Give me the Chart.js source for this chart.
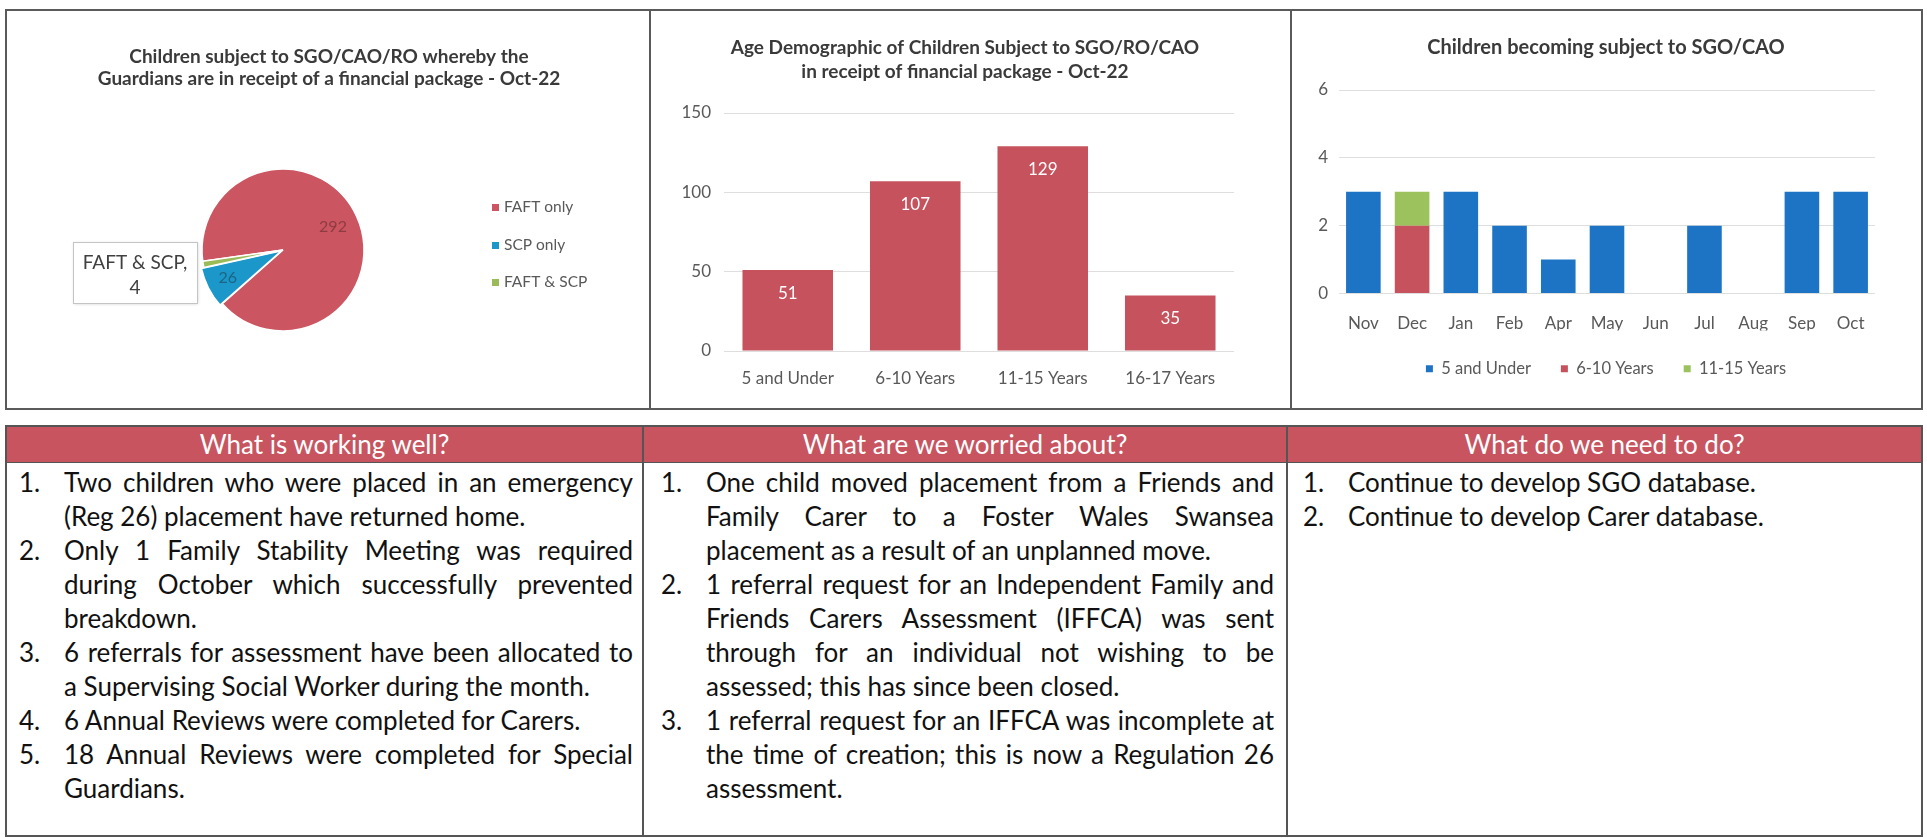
<!DOCTYPE html>
<html>
<head>
<meta charset="utf-8">
<script src="https://cdn.jsdelivr.net/npm/chart.js@4.4.0/dist/chart.umd.min.js"></script>
<style>
html,body{margin:0;padding:0;background:#fff;width:1927px;height:838px;overflow:hidden;font-family:Lato,'Open Sans',sans-serif;}
.panel{position:absolute;border:2px solid #5a5a5a;box-sizing:border-box;}
canvas{position:absolute;}
.col{position:absolute;top:425px;height:412px;border:2px solid #555;box-sizing:border-box;}
.hdr{position:absolute;left:0;right:0;top:0;height:35px;background:#C7545F;color:#fff;font-size:26px;line-height:35px;text-align:center;border-bottom:1.5px solid #555;}
.body{position:absolute;top:38px;left:0;right:0;font-size:26px;line-height:34px;color:#111;}
.item{position:relative;}
.num{position:absolute;top:0;}
.ln{white-space:nowrap;text-align:left;}
.ln.j{text-align:justify;text-align-last:justify;}
</style>
</head>
<body>
<div class="panel" style="left:5px;top:9px;width:646px;height:401px"></div>
<div class="panel" style="left:649px;top:9px;width:643px;height:401px"></div>
<div class="panel" style="left:1290px;top:9px;width:633px;height:401px"></div>
<canvas id="c1" width="644" height="399" style="left:6px;top:10px"></canvas>
<canvas id="c2" width="640" height="399" style="left:650px;top:10px"></canvas>
<canvas id="c3" width="632" height="399" style="left:1290px;top:10px"></canvas>

<div class="col" id="t1" style="left:5px;width:639px"><div class="hdr"></div><div class="body"></div></div>
<div class="col" id="t2" style="left:642px;width:646px"><div class="hdr"></div><div class="body"></div></div>
<div class="col" id="t3" style="left:1286px;width:637px"><div class="hdr"></div><div class="body"></div></div>

<script>
// ---------- DATA ----------
const pieTitle = ['Children subject to SGO/CAO/RO whereby the', 'Guardians are in receipt of a financial package - Oct-22'];
const pieLabels = ['FAFT only', 'SCP only', 'FAFT & SCP'];
const pieValues = [292, 26, 4];

const ageTitle = ['Age Demographic of Children Subject to SGO/RO/CAO', 'in receipt of financial package - Oct-22'];
const ageCategories = ['5 and Under', '6-10 Years', '11-15 Years', '16-17 Years'];
const ageValues = [51, 107, 129, 35];
const ageTicks = [0, 50, 100, 150];

const monthTitle = 'Children becoming subject to SGO/CAO';
const months = ['Nov', 'Dec', 'Jan', 'Feb', 'Apr', 'May', 'Jun', 'Jul', 'Aug', 'Sep', 'Oct'];
const under5 = [3, 0, 3, 2, 1, 2, 0, 2, 0, 3, 3];
const years6to10 = [0, 2, 0, 0, 0, 0, 0, 0, 0, 0, 0];
const years11to15 = [0, 1, 0, 0, 0, 0, 0, 0, 0, 0, 0];
const monthTicks = [0, 2, 4, 6];

const tableHeaders = ['What is working well?', 'What are we worried about?', 'What do we need to do?'];
const workingWell = [
  ['Two children who were placed in an emergency', '(Reg 26) placement have returned home.'],
  ['Only 1 Family Stability Meeting was required', 'during October which successfully prevented', 'breakdown.'],
  ['6 referrals for assessment have been allocated to', 'a Supervising Social Worker during the month.'],
  ['6 Annual Reviews were completed for Carers.'],
  ['18 Annual Reviews were completed for Special', 'Guardians.']
];
const worriedAbout = [
  ['One child moved placement from a Friends and', 'Family Carer to a Foster Wales Swansea', 'placement as a result of an unplanned move.'],
  ['1 referral request for an Independent Family and', 'Friends Carers Assessment (IFFCA) was sent', 'through for an individual not wishing to be', 'assessed; this has since been closed.'],
  ['1 referral request for an IFFCA was incomplete at', 'the time of creation; this is now a Regulation 26', 'assessment.']
];
const needToDo = [
  ['Continue to develop SGO database.'],
  ['Continue to develop Carer database.']
];

// ---------- STYLE ----------
const RED = '#C5525C';
const PIE_COLORS = ['#CB5560', '#1C97C9', '#9BBB59'];
const MONTH_COLORS = ['#1E74C4', '#C5525C', '#9BC25C'];
const TICK = '#595959';
const TITLE = '#3a3a3a';
const GRID = '#DEDEDE';
Chart.defaults.font.family = 'Lato';
Chart.defaults.animation = false;

// ---------- PIE ----------
const pieExtras = {
  id: 'pieExtras',
  afterDatasetsDraw(chart) {
    const ctx = chart.ctx;
    const meta = chart.getDatasetMeta(0);
    const ds = chart.data.datasets[0];
    const W = chart.width;
    ctx.save();
    // title
    ctx.fillStyle = TITLE;
    ctx.font = 'bold 19px Lato';
    ctx.textAlign = 'center';
    ctx.textBaseline = 'middle';
    pieTitle.forEach((t, i) => ctx.fillText(t, W / 2 + 1, 47 + i * 22));
    // data labels
    const lblColors = ['#8E3B42', '#1B6586'];
    ctx.font = '16px Lato';
    [0, 1].forEach(i => {
      const a = meta.data[i];
      const mid = (a.startAngle + a.endAngle) / 2;
      const r = (ds.offset[i] || 0) + a.outerRadius * 0.68;
      ctx.fillStyle = lblColors[i];
      ctx.fillText(String(ds.data[i]), a.x + Math.cos(mid) * r, a.y + Math.sin(mid) * r);
    });
    // callout for the smallest slice
    const g = meta.data[2];
    const bx = g.x - 210, by = g.y - 8, bw = 124, bh = 61;
    ctx.shadowColor = 'rgba(0,0,0,0.18)';
    ctx.shadowBlur = 3; ctx.shadowOffsetX = 1; ctx.shadowOffsetY = 1;
    ctx.fillStyle = '#fff';
    ctx.fillRect(bx, by, bw, bh);
    ctx.shadowColor = 'transparent';
    ctx.strokeStyle = '#C4C4C4';
    ctx.lineWidth = 1;
    ctx.strokeRect(bx + 0.5, by + 0.5, bw, bh);
    ctx.fillStyle = '#404040';
    ctx.font = '19px Lato';
    ctx.fillText(chart.data.labels[2] + ',', bx + bw / 2, by + 21);
    ctx.fillText(String(ds.data[2]), bx + bw / 2, by + 46);
    // legend
    ctx.textAlign = 'left';
    ctx.font = '15.5px Lato';
    const ly = [197, 235, 272];
    chart.data.labels.forEach((l, i) => {
      ctx.fillStyle = ds.backgroundColor[i];
      ctx.fillRect(486, ly[i] - 3, 7, 7);
      ctx.fillStyle = TICK;
      ctx.fillText(l, 498, ly[i]);
    });
    ctx.restore();
  }
};

new Chart(document.getElementById('c1'), {
  type: 'pie',
  data: {
    labels: pieLabels,
    datasets: [{
      data: pieValues,
      backgroundColor: PIE_COLORS,
      borderColor: '#ffffff',
      borderWidth: 1.5,
      offset: [0, 7, 0],
      radius: 81,
      rotation: 262
    }]
  },
  options: {
    responsive: false,
    rotation: 262,
    layout: { padding: { left: 177, right: 267, top: 140, bottom: 59 } },
    plugins: { legend: { display: false }, tooltip: { enabled: false }, title: { display: false } }
  },
  plugins: [pieExtras]
});

// ---------- AGE BAR ----------
const barLabels = {
  id: 'barLabels',
  afterDatasetsDraw(chart) {
    const ctx = chart.ctx;
    const meta = chart.getDatasetMeta(0);
    ctx.save();
    ctx.fillStyle = '#ffffff';
    ctx.font = '17px Lato';
    ctx.textAlign = 'center';
    ctx.textBaseline = 'middle';
    meta.data.forEach((b, i) => ctx.fillText(String(chart.data.datasets[0].data[i]), b.x, b.y + 23));
    ctx.restore();
  }
};

new Chart(document.getElementById('c2'), {
  type: 'bar',
  data: {
    labels: ageCategories,
    datasets: [{ data: ageValues, backgroundColor: RED, barPercentage: 0.71, categoryPercentage: 1 }]
  },
  options: {
    responsive: false,
    layout: { padding: { left: 0, right: 10, top: 0, bottom: 18 } },
    plugins: {
      legend: { display: false },
      tooltip: { enabled: false },
      title: {
        display: true, text: ageTitle, color: TITLE,
        font: { family: 'Lato', size: 19, weight: 'bold', lineHeight: 24 / 19 },
        padding: { top: 26, bottom: 29 }
      }
    },
    scales: {
      x: {
        grid: { display: false }, border: { display: false },
        ticks: { color: TICK, font: { size: 17 }, padding: 9 },
        afterFit(s) { s.height = 40; }
      },
      y: {
        min: ageTicks[0], max: ageTicks[ageTicks.length - 1],
        ticks: { stepSize: ageTicks[1] - ageTicks[0], color: TICK, font: { size: 17 }, padding: 13 },
        grid: { color: GRID, drawTicks: false }, border: { display: false },
        afterFit(s) { s.width = 74; }
      },
      y2: {
        position: 'right', grid: { display: false }, border: { display: false },
        ticks: { display: false }, afterFit(s) { s.width = 46; }
      }
    }
  },
  plugins: [barLabels]
});

// ---------- MONTH STACKED ----------
new Chart(document.getElementById('c3'), {
  type: 'bar',
  data: {
    labels: months,
    datasets: [
      { label: '5 and Under', data: under5, backgroundColor: MONTH_COLORS[0], barPercentage: 0.71, categoryPercentage: 1 },
      { label: '6-10 Years', data: years6to10, backgroundColor: MONTH_COLORS[1], barPercentage: 0.71, categoryPercentage: 1 },
      { label: '11-15 Years', data: years11to15, backgroundColor: MONTH_COLORS[2], barPercentage: 0.71, categoryPercentage: 1 }
    ]
  },
  options: {
    responsive: false,
    layout: { padding: { left: 0, right: 0, top: 0, bottom: 22 } },
    plugins: {
      tooltip: { enabled: false },
      title: {
        display: true, text: monthTitle, color: TITLE,
        font: { family: 'Lato', size: 20, weight: 'bold', lineHeight: 24 / 20 },
        padding: { top: 26, bottom: 30 }
      },
      legend: {
        position: 'bottom',
        labels: { boxWidth: 7, boxHeight: 7, padding: 30, color: TICK, font: { size: 16.5 } }
      }
    },
    scales: {
      x: {
        stacked: true, grid: { display: false }, border: { display: false },
        ticks: { color: TICK, font: { size: 17 }, padding: 12 },
        afterFit(s) { s.height = 37; }
      },
      y: {
        stacked: true, min: monthTicks[0], max: monthTicks[monthTicks.length - 1],
        ticks: { stepSize: monthTicks[1] - monthTicks[0], color: TICK, font: { size: 17 }, padding: 11 },
        grid: { color: GRID, drawTicks: false }, border: { display: false },
        afterFit(s) { s.width = 49; }
      },
      y2: {
        position: 'right', grid: { display: false }, border: { display: false },
        ticks: { display: false }, afterFit(s) { s.width = 47; }
      }
    }
  }
});

// ---------- TABLE ----------
function fillColumn(id, header, items, numLeft, textLeft, textWidth) {
  const col = document.getElementById(id);
  col.querySelector('.hdr').textContent = header;
  const body = col.querySelector('.body');
  items.forEach((lines, i) => {
    const item = document.createElement('div');
    item.className = 'item';
    const num = document.createElement('span');
    num.className = 'num';
    num.style.left = numLeft + 'px';
    num.textContent = (i + 1) + '.';
    item.appendChild(num);
    lines.forEach((t, k) => {
      const ln = document.createElement('div');
      ln.className = 'ln' + (k < lines.length - 1 ? ' j' : '');
      ln.style.marginLeft = textLeft + 'px';
      ln.style.width = textWidth + 'px';
      const sp = document.createElement('span');
      sp.textContent = t;
      ln.appendChild(sp);
      item.appendChild(ln);
    });
    body.appendChild(item);
  });
}
fillColumn('t1', tableHeaders[0], workingWell, 12, 57, 569);
fillColumn('t2', tableHeaders[1], worriedAbout, 17, 62, 568);
fillColumn('t3', tableHeaders[2], needToDo, 15, 60, 560);

document.querySelectorAll('.ln').forEach(el => {
  const sp = el.firstChild;
  const prev = el.style.textAlignLast;
  el.style.textAlignLast = 'left';
  const nat = sp.getBoundingClientRect().width;
  el.style.textAlignLast = prev;
  if (nat > el.clientWidth) {
    el.style.letterSpacing = ((el.clientWidth - nat) / sp.textContent.length) + 'px';
  }
});
</script>
</body>
</html>
